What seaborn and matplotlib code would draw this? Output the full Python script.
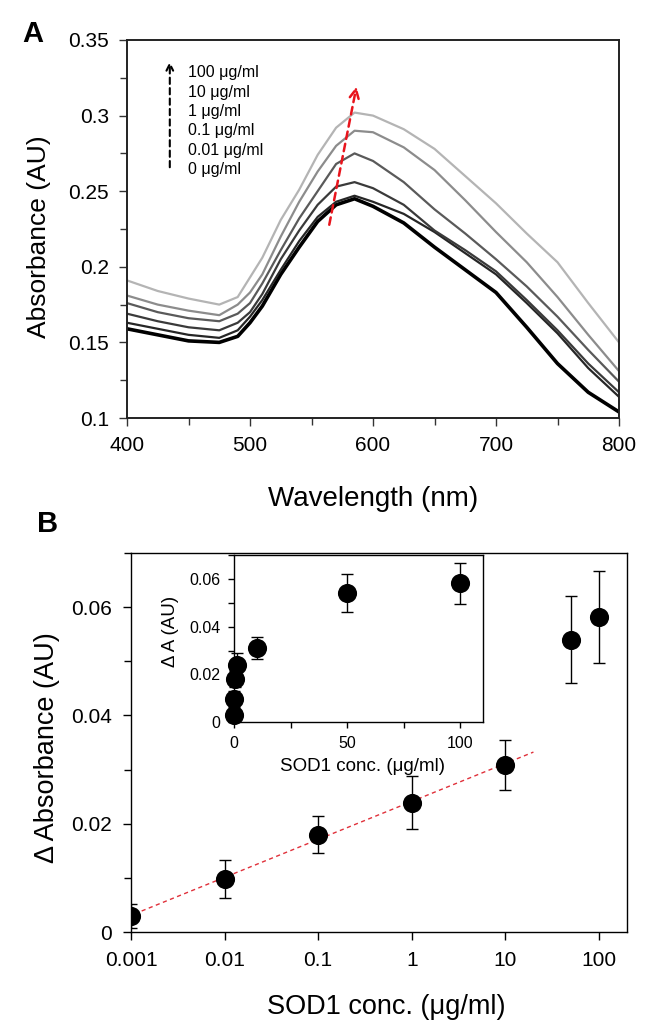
import numpy as np
import pandas as pd
import seaborn as sns
import matplotlib
matplotlib.use("Agg")
import matplotlib.pyplot as plt
from matplotlib.ticker import MultipleLocator, FixedLocator, FuncFormatter

# Panel A: absorbance spectra
wavelength = [400, 425, 450, 475, 490, 500, 510, 525, 540, 555, 570, 585,
              600, 625, 650, 675, 700, 725, 750, 775, 800]
abs_0 = [0.159, 0.155, 0.151, 0.150, 0.154, 0.163, 0.174, 0.195, 0.213, 0.230, 0.241, 0.245,
         0.240, 0.229, 0.213, 0.198, 0.183, 0.160, 0.136, 0.117, 0.104]
abs_001 = [0.163, 0.159, 0.155, 0.153, 0.158, 0.167, 0.178, 0.198, 0.217, 0.233, 0.243, 0.247,
           0.243, 0.235, 0.223, 0.209, 0.195, 0.176, 0.156, 0.133, 0.114]
abs_01 = [0.169, 0.164, 0.160, 0.158, 0.163, 0.170, 0.182, 0.205, 0.224, 0.241, 0.253, 0.256,
          0.252, 0.241, 0.224, 0.211, 0.197, 0.178, 0.158, 0.136, 0.117]
abs_1 = [0.176, 0.170, 0.166, 0.164, 0.169, 0.176, 0.189, 0.211, 0.232, 0.250, 0.268, 0.275,
         0.270, 0.256, 0.238, 0.222, 0.205, 0.187, 0.167, 0.145, 0.124]
abs_10 = [0.181, 0.175, 0.171, 0.168, 0.175, 0.183, 0.195, 0.220, 0.243, 0.263, 0.280, 0.290,
          0.289, 0.279, 0.264, 0.244, 0.223, 0.203, 0.180, 0.155, 0.131]
abs_100 = [0.191, 0.184, 0.179, 0.175, 0.180, 0.193, 0.206, 0.231, 0.251, 0.274, 0.292, 0.302,
           0.300, 0.291, 0.278, 0.260, 0.242, 0.222, 0.203, 0.176, 0.150]
conc_labels = ["0 μg/ml", "0.01 μg/ml", "0.1 μg/ml", "1 μg/ml", "10 μg/ml", "100 μg/ml"]

# Panel B: delta absorbance vs SOD1 concentration
sod1_conc = [0.001, 0.01, 0.1, 1, 10, 50, 100]
delta_abs = [0.0029, 0.0098, 0.0180, 0.0239, 0.0309, 0.0540, 0.0581]
delta_err = [0.0022, 0.0035, 0.0034, 0.0049, 0.0046, 0.0080, 0.0085]
fit_points = 5           # linear range used for the trend line
fit_range = (0.0013, 20)

sns.set_style("ticks")
plt.rcParams["font.family"] = ["Liberation Sans", "DejaVu Sans"]
plt.rcParams["xtick.direction"] = "out"
plt.rcParams["ytick.direction"] = "out"
for key in ["text.color", "axes.labelcolor", "xtick.color", "ytick.color", "axes.edgecolor"]:
    plt.rcParams[key] = "black"

W, H = 661, 1027
fig = plt.figure(figsize=(W / 100, H / 100), dpi=100)

# ---------- panel A ----------
axA = fig.add_axes([127 / W, (H - 418) / H, 492 / W, 378 / H])
spectra = [abs_0, abs_001, abs_01, abs_1, abs_10, abs_100]
rows = []
for lab, vals in zip(conc_labels, spectra):
    for w, a in zip(wavelength, vals):
        rows.append({"wavelength": w, "absorbance": a, "conc": lab})
df_spec = pd.DataFrame(rows)
greys = ["#000000", "#262626", "#3a3a3a", "#5a5a5a", "#8c8c8c", "#b4b4b4"]
sns.lineplot(data=df_spec, x="wavelength", y="absorbance", hue="conc",
             hue_order=conc_labels, palette=greys, sort=False,
             legend=False, ax=axA, linewidth=1.6)
axA.lines[0].set_linewidth(2.6)
for ln in axA.lines:
    ln.set_solid_joinstyle("round")

axA.set_xlim(400, 800)
axA.set_ylim(0.1, 0.35)
axA.xaxis.set_major_locator(MultipleLocator(100))
axA.xaxis.set_minor_locator(MultipleLocator(50))
axA.yaxis.set_major_locator(MultipleLocator(0.05))
axA.yaxis.set_minor_locator(MultipleLocator(0.025))
axA.yaxis.set_major_formatter(FuncFormatter(lambda v, p: f"{v:g}"))
axA.tick_params(which="major", length=6, width=1, labelsize=15, pad=7, color="#333333")
axA.tick_params(which="minor", length=5, width=1, color="#333333")
for s in axA.spines.values():
    s.set_linewidth(1.4)
    s.set_color("#222222")
axA.set_xlabel("Wavelength (nm)", fontsize=20, va="center")
axA.xaxis.set_label_coords(0.5, -0.214)
axA.set_ylabel("Absorbance (AU)", fontsize=19, va="center")
axA.yaxis.set_label_coords(-0.179, 0.48)

# red dashed arrow across the peaks
axA.annotate("", xy=(587, 0.321), xytext=(564, 0.226),
             arrowprops=dict(arrowstyle="->", linestyle=(0, (3, 2)), color="#e8141c",
                             lw=1.8, mutation_scale=16))

# concentration list with dashed arrow
axA.annotate("", xy=(0.087, 0.95), xytext=(0.087, 0.656), xycoords="axes fraction",
             arrowprops=dict(arrowstyle="->", linestyle=(0, (3, 2)), color="black",
                             lw=1.5, mutation_scale=12))
for i, lab in enumerate(reversed(conc_labels)):
    fig.text(188 / W, 1 - (73 + i * 19.3) / H, lab, fontsize=11.5, va="center", ha="left")

fig.text(33 / W, 1 - 34 / H, "A", fontsize=21, fontweight="bold", ha="center", va="center")
fig.text(48 / W, 1 - 524 / H, "B", fontsize=21, fontweight="bold", ha="center", va="center")

# ---------- panel B ----------
axB = fig.add_axes([131 / W, (H - 932) / H, 496 / W, 379 / H])
df_b = pd.DataFrame({"conc": sod1_conc, "dA": delta_abs, "err": delta_err})

lin = df_b.iloc[:fit_points]
slope, icpt = np.polyfit(np.log10(lin["conc"]), lin["dA"], 1)
fit_x = np.logspace(np.log10(fit_range[0]), np.log10(fit_range[1]), 2)
sns.lineplot(x=fit_x, y=icpt + slope * np.log10(fit_x), ax=axB, color="#e0303a",
             linewidth=1.0, linestyle=(0, (3, 2.5)), zorder=1)

axB.errorbar(df_b["conc"], df_b["dA"], yerr=df_b["err"], fmt="none", ecolor="black",
             elinewidth=1.0, capsize=4, capthick=1.0, zorder=2)
sns.scatterplot(data=df_b, x="conc", y="dA", ax=axB, color="black", s=190,
                edgecolor="black", linewidth=0, zorder=3)
axB.set_xscale("log")
axB.set_xlim(0.001, 200)
axB.set_ylim(0, 0.07)
axB.xaxis.set_major_locator(FixedLocator([0.001, 0.01, 0.1, 1, 10, 100]))
axB.xaxis.set_minor_locator(FixedLocator([]))
axB.xaxis.set_major_formatter(FuncFormatter(lambda v, p: f"{v:g}"))
axB.yaxis.set_major_locator(MultipleLocator(0.02))
axB.yaxis.set_minor_locator(MultipleLocator(0.01))
axB.yaxis.set_major_formatter(FuncFormatter(lambda v, p: f"{v:g}"))
axB.tick_params(which="major", length=6, width=1, labelsize=15, pad=8)
axB.tick_params(which="minor", length=5, width=1)
for s in axB.spines.values():
    s.set_linewidth(1.0)
axB.set_xlabel("SOD1 conc. (μg/ml)", fontsize=19.5, va="center")
axB.xaxis.set_label_coords(0.514, -0.198)
axB.set_ylabel("Δ Absorbance (AU)", fontsize=19.5, va="center")
axB.yaxis.set_label_coords(-0.169, 0.487)

# ---------- inset ----------
axI = fig.add_axes([234.3 / W, (H - 722.3) / H, 248.4 / W, 167.3 / H])
axI.set_facecolor("white")
axI.errorbar(df_b["conc"], df_b["dA"], yerr=df_b["err"], fmt="none", ecolor="black",
             elinewidth=1.0, capsize=4, capthick=1.0, zorder=2, clip_on=False)
sns.scatterplot(data=df_b, x="conc", y="dA", ax=axI, color="black", s=190,
                edgecolor="black", linewidth=0, zorder=3, clip_on=False)
axI.set_xlim(0, 110)
axI.set_ylim(0, 0.07)
axI.xaxis.set_major_locator(FixedLocator([0, 50, 100]))
axI.xaxis.set_minor_locator(FixedLocator([25, 75]))
axI.yaxis.set_major_locator(MultipleLocator(0.02))
axI.yaxis.set_minor_locator(MultipleLocator(0.01))
axI.yaxis.set_major_formatter(FuncFormatter(lambda v, p: "0" if v == 0 else f"{v:.2f}"))
axI.tick_params(which="major", length=4, width=1, labelsize=11.5, pad=6)
axI.tick_params(which="minor", length=4, width=1)
for s in axI.spines.values():
    s.set_linewidth(1.0)
axI.set_xlabel("SOD1 conc. (μg/ml)", fontsize=13.5, va="center")
axI.xaxis.set_label_coords(0.518, -0.267)
axI.set_ylabel("Δ A (AU)", fontsize=13.5, va="center")
axI.yaxis.set_label_coords(-0.255, 0.546)

fig.savefig("out.png", dpi=100)
